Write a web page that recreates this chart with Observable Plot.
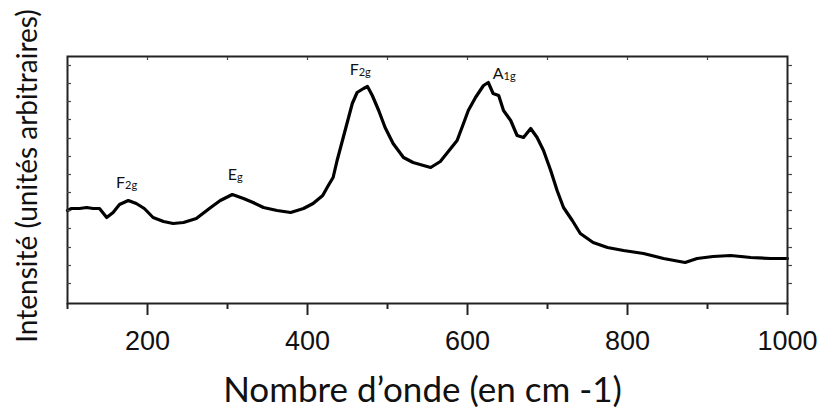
<!DOCTYPE html>
<html><head><meta charset="utf-8">
<script src="https://cdn.jsdelivr.net/npm/d3@7"></script>
<script src="https://cdn.jsdelivr.net/npm/@observablehq/plot@0.6"></script>
<style>html,body{margin:0;padding:0;background:#fff}</style>
</head><body><div id="chart"></div>
<script>
const wavenumber = [100,105,115,124,132,140,149,157,165,176,186,196,207,220,232,245,261,279,291,306,320,332,345,362,379,395,407,419,426,432,437,447,456,462,470,475,481,489,497,507,520,532,545,554,566,575,587,595,601,610,620,626,632,639,645,654,662,670,679,687,695,704,712,720,731,741,757,775,795,820,845,872,887,907,929,954,979,1000];
const intensity  = [93,95,95,96,95,95,86,91,99,103,100,95,86,82,80,81,85,96,103,109,105,101,96,93,91,95,100,108,118,126,143,173,200,211,215,217,208,193,176,160,146,141,138,136,142,151,163,180,193,206,218,221,210,208,193,183,168,166,175,166,153,133,113,96,83,70,61,56,53,50,45,41,45,47,48,46,45,45];
const xMajorTicks = [200,400,600,800,1000];
const xMinorTicks = [100,300,500,700,900];
const xTopTicks = [200,300,400,500,600,700,800,900];
const yTicks = [20,38,56,75,93,111,129,147,165,184,202,220,238];
const peakNames = ["F","E","F","A"];
const peakSubs = ["2g","g","2g","1g"];
const peakX = [172,312,464,645];
const peakY = [121,129,234,230];
const xTitle = "Nombre d’onde (en cm -1)";
const yTitle = "Intensité (unités arbitraires)";

const spectrum = wavenumber.map((w, k) => ({w, v: intensity[k]}));
const peaks = peakNames.map((n, k) => ({n, s: peakSubs[k], x: peakX[k], y: peakY[k]}));

const chart = Plot.plot({
  width: 822, height: 418,
  marginLeft: 67, marginRight: 35, marginTop: 56, marginBottom: 115,
  style: {fontFamily: "Liberation Sans", background: "#fff", color: "#111"},
  x: {domain: [100, 1000]},
  y: {domain: [0, 247]},
  marks: [
    Plot.line(spectrum, {x: "w", y: "v", stroke: "#000", strokeWidth: 3.2, strokeLinejoin: "round", strokeLinecap: "round"}),
    Plot.frame({stroke: "#222", strokeWidth: 2}),
    Plot.axisX(xMajorTicks, {anchor: "bottom", tickSize: 12, tickPadding: 15, fontSize: 27, strokeWidth: 2, stroke: "#222", tickFormat: d => String(d), label: null}),
    Plot.axisX(xMinorTicks, {anchor: "bottom", tickSize: 6, strokeWidth: 2, stroke: "#222", tickFormat: () => "", label: null}),
    Plot.axisX(xTopTicks, {anchor: "top", tickSize: -3, strokeWidth: 1.2, stroke: "#444", tickFormat: () => "", label: null}),
    Plot.axisY(yTicks, {anchor: "left", tickSize: -4, strokeWidth: 1.2, stroke: "#444", tickFormat: () => "", label: null}),
    Plot.axisY(yTicks, {anchor: "right", tickSize: 4, strokeWidth: 1.2, stroke: "#444", tickFormat: () => "", label: null}),
    Plot.text(peaks, {x: "x", y: "y", text: "n", textAnchor: "end", fontSize: 16, fontFamily: "Lato", fill: "#111"}),
    Plot.text(peaks, {x: "x", y: "y", text: "s", textAnchor: "start", fontSize: 11, fontFamily: "Lato", fill: "#111", dy: 3}),
    Plot.text([xTitle], {frameAnchor: "bottom", text: d => d, dx: -5, dy: 98, fontSize: 35, fontFamily: "Lato", fill: "#111"}),
    Plot.text([yTitle], {frameAnchor: "left", text: d => d, rotate: -90, textAnchor: "middle", dx: -39, dy: -4, fontSize: 28, fontFamily: "Lato", fill: "#111"})
  ]
});
document.getElementById("chart").appendChild(chart);
</script>
</body></html>
